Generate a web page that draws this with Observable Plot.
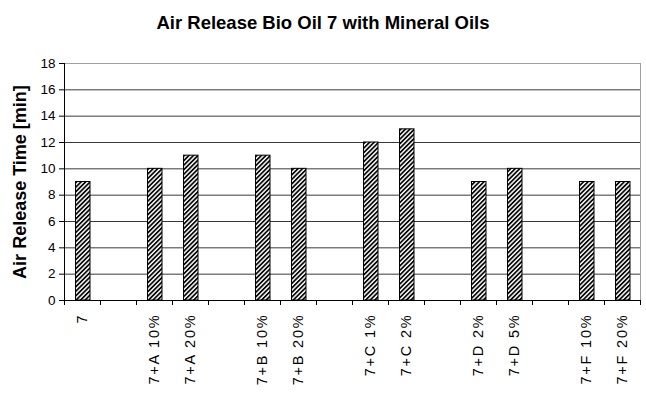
<!DOCTYPE html>
<html>
<head>
<meta charset="utf-8">
<script src="https://cdn.jsdelivr.net/npm/d3@7"></script>
<script src="https://cdn.jsdelivr.net/npm/@observablehq/plot@0.6"></script>
<style>
  html, body { margin: 0; padding: 0; background: #fff; }
  body { width: 646px; height: 397px; overflow: hidden; font-family: "Liberation Sans", Arial, sans-serif; }
  #title { height: 40px; line-height: 46px; text-align: center; font-weight: bold; font-size: 18.5px; color: #000; }
  .xlab text { letter-spacing: 1.8px; }
  g[aria-label="y-axis label"] text { font-weight: bold; }
</style>
</head>
<body>
<div id="title">Air Release Bio Oil 7 with Mineral Oils</div>
<div id="chart"></div>
<script>
const categories = ["7", "", "7+A 10%", "7+A 20%", "", "7+B 10%", "7+B 20%", "", "7+C 1%", "7+C 2%", "", "7+D 2%", "7+D 5%", "", "7+F 10%", "7+F 20%"];
const values = [9, null, 10, 11, null, 11, 10, null, 12, 13, null, 9, 10, null, 9, 9];
const yTicks = [0, 2, 4, 6, 8, 10, 12, 14, 16, 18];
const yLabel = "Air Release Time [min]";

const data = categories.map((c, i) => ({i, c, v: values[i]})).filter(d => d.v != null);
const n = categories.length;

const chart = Plot.plot({
  width: 646,
  height: 357,
  marginLeft: 64,
  marginRight: 6,
  marginTop: 23,
  marginBottom: 97,
  style: {fontFamily: "Liberation Sans, Arial, sans-serif", color: "#000", background: "#fff"},
  x: {type: "linear", domain: [0, n]},
  y: {domain: [0, 18]},
  marks: [
    Plot.frame({stroke: "#a0a0a0"}),
    Plot.gridY(yTicks.filter(t => t > 0 && t < 18), {stroke: "#3a3a3a", strokeOpacity: 1}),
    Plot.rectY(data, {x1: d => d.i, x2: d => d.i + 1, y: "v", insetLeft: 11.5, insetRight: 10, fill: "url(#hatch)", stroke: "#000", strokeWidth: 1}),
    Plot.ruleX([0], {stroke: "#000"}),
    Plot.ruleY([0], {stroke: "#000"}),
    Plot.axisY({ticks: yTicks, tickSize: 5, tickPadding: 4, fontSize: 13.5, label: null, tickFormat: d => String(d)}),
    Plot.axisY({ticks: [], tickSize: 0, label: yLabel, labelAnchor: "center", labelArrow: "none", labelOffset: 51, fontSize: 18, fontWeight: "bold"}),
    Plot.axisX({ticks: d3.range(n + 1), tickSize: 5, tickFormat: () => "", label: null}),
    Plot.axisX({ticks: d3.range(n).map(i => i + 0.5), tickFormat: d => categories[Math.floor(d)], tickSize: 0, tickPadding: 13, tickRotate: -90, fontSize: 14.5, label: null, className: "xlab"})
  ]
});

const svg = d3.select(chart);
svg.selectAll('g[aria-label="y-axis label"] text').attr("font-weight", "bold");
const pat = svg.insert("defs", ":first-child").append("pattern")
  .attr("id", "hatch").attr("patternUnits", "userSpaceOnUse")
  .attr("width", 3.2).attr("height", 3.2).attr("patternTransform", "rotate(45)");
pat.append("rect").attr("width", 3.2).attr("height", 3.2).attr("fill", "#fff");
pat.append("line").attr("x1", 0.9).attr("y1", 0).attr("x2", 0.9).attr("y2", 3.2).attr("stroke", "#000").attr("stroke-width", 1.7);

document.getElementById("chart").appendChild(chart);
</script>
</body>
</html>
